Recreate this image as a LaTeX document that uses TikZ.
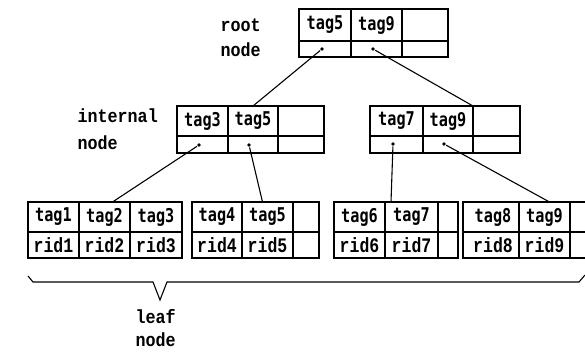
\documentclass[tikz,border=0pt]{standalone}
\usepackage{fontspec}
\newfontfamily\tagfont{DejaVu Sans Mono}
\newfontfamily\lblfont{Liberation Mono}
\newcommand{\tagtext}[1]{\scalebox{0.8}[1]{\tagfont\bfseries\fontsize{19}{19}\selectfont #1}}
\newcommand{\ridtext}[1]{\scalebox{1}[1.25]{\lblfont\bfseries\fontsize{16.5}{16.5}\selectfont #1}}
\newcommand{\lbltext}[1]{\scalebox{0.88}[1]{\lblfont\bfseries\fontsize{19}{19}\selectfont #1}}
\begin{document}
\begin{tikzpicture}[x=1pt,y=-1pt, line width=1.1pt,
  cell/.style={draw, anchor=north west, inner sep=0pt, outer sep=0pt},
  lbl/.style={anchor=west, inner sep=0pt},
  dot/.style={circle, fill, inner sep=0pt, minimum size=3.8pt},
  link/.style={draw, line width=1.1pt}]
\clip (0,0) rectangle (585,352);
% root node
\node[cell, minimum width=52pt, minimum height=32pt] (r1) at (299,9) {\tagtext{tag5}};
\node[cell, minimum width=51pt, minimum height=32pt] (r2) at (351,9) {\tagtext{tag9}};
\node[cell, minimum width=46pt, minimum height=32pt] (r3) at (402,9) {};
\node[cell, minimum width=52pt, minimum height=16pt] (r4) at (299,41) {};
\node[cell, minimum width=51pt, minimum height=16pt] (r5) at (351,41) {};
\node[cell, minimum width=46pt, minimum height=16pt] (r6) at (402,41) {};
% internal node left
\node[cell, minimum width=51pt, minimum height=30pt] (il1) at (177,106) {\tagtext{tag3}};
\node[cell, minimum width=50pt, minimum height=30pt] (il2) at (228,106) {\tagtext{tag5}};
\node[cell, minimum width=46pt, minimum height=30pt] (il3) at (278,106) {};
\node[cell, minimum width=51pt, minimum height=17pt] (il4) at (177,136) {};
\node[cell, minimum width=50pt, minimum height=17pt] (il5) at (228,136) {};
\node[cell, minimum width=46pt, minimum height=17pt] (il6) at (278,136) {};
% internal node right
\node[cell, minimum width=53pt, minimum height=30pt] (ir1) at (370,106) {\tagtext{tag7}};
\node[cell, minimum width=50pt, minimum height=30pt] (ir2) at (423,106) {\tagtext{tag9}};
\node[cell, minimum width=47pt, minimum height=30pt] (ir3) at (473,106) {};
\node[cell, minimum width=53pt, minimum height=17pt] (ir4) at (370,136) {};
\node[cell, minimum width=50pt, minimum height=17pt] (ir5) at (423,136) {};
\node[cell, minimum width=47pt, minimum height=17pt] (ir6) at (473,136) {};
% leaf 1
\node[cell, minimum width=51pt, minimum height=30pt] (la1) at (28,202) {\tagtext{tag1}};
\node[cell, minimum width=51pt, minimum height=30pt] (la2) at (79,202) {\tagtext{tag2}};
\node[cell, minimum width=52pt, minimum height=30pt] (la3) at (130,202) {\tagtext{tag3}};
\node[cell, minimum width=51pt, minimum height=26pt] (la4) at (28,232) {\ridtext{rid1}};
\node[cell, minimum width=51pt, minimum height=26pt] (la5) at (79,232) {\ridtext{rid2}};
\node[cell, minimum width=52pt, minimum height=26pt] (la6) at (130,232) {\ridtext{rid3}};
% leaf 2
\node[cell, minimum width=50pt, minimum height=30pt] (lb1) at (192,202) {\tagtext{tag4}};
\node[cell, minimum width=51pt, minimum height=30pt] (lb2) at (242,202) {\tagtext{tag5}};
\node[cell, minimum width=26pt, minimum height=30pt] (lb3) at (293,202) {};
\node[cell, minimum width=50pt, minimum height=26pt] (lb4) at (192,232) {\ridtext{rid4}};
\node[cell, minimum width=51pt, minimum height=26pt] (lb5) at (242,232) {\ridtext{rid5}};
\node[cell, minimum width=26pt, minimum height=26pt] (lb6) at (293,232) {};
% leaf 3
\node[cell, minimum width=51pt, minimum height=30pt] (lc1) at (334,202) {\tagtext{tag6}};
\node[cell, minimum width=53pt, minimum height=30pt] (lc2) at (385,202) {\tagtext{tag7}};
\node[cell, minimum width=20pt, minimum height=30pt] (lc3) at (438,202) {};
\node[cell, minimum width=51pt, minimum height=26pt] (lc4) at (334,232) {\ridtext{rid6}};
\node[cell, minimum width=53pt, minimum height=26pt] (lc5) at (385,232) {\ridtext{rid7}};
\node[cell, minimum width=20pt, minimum height=26pt] (lc6) at (438,232) {};
% leaf 4
\node[cell, minimum width=56pt, minimum height=30pt] (ld1) at (463,202) {\hspace{4pt}\tagtext{tag8}};
\node[cell, minimum width=51pt, minimum height=30pt] (ld2) at (519,202) {\tagtext{tag9}};
\node[cell, minimum width=30pt, minimum height=30pt] (ld3) at (570,202) {};
\node[cell, minimum width=56pt, minimum height=26pt] (ld4) at (463,232) {\hspace{4pt}\ridtext{rid8}};
\node[cell, minimum width=51pt, minimum height=26pt] (ld5) at (519,232) {\ridtext{rid9}};
\node[cell, minimum width=30pt, minimum height=26pt] (ld6) at (570,232) {};
% pointer dots
\node[dot] (d1) at (322,49) {};
\node[dot] (d2) at (373,49) {};
\node[dot] (d3) at (199,145) {};
\node[dot] (d4) at (249,145) {};
\node[dot] (d5) at (393,144) {};
\node[dot] (d6) at (444,144) {};
% connectors
\draw[link] (d1) -- (il2.north);
\draw[link] (d2) -- (ir2.north east);
\draw[link] (d3) -- ([xshift=8pt]la2.north);
\draw[link] (d4) -- ([xshift=-5pt]lb2.north);
\draw[link] (d5) -- ([xshift=6pt]lc2.north west);
\draw[link] (d6) -- ([xshift=5pt]ld2.north);
% brace
\draw (28,276) -- (33,282) -- (153,282) -- (160,300) -- (167,282) -- (579,282) -- (585,275);
% labels
\node[lbl] (rootl1) at (220,25) {\lbltext{root}};
\node[lbl] (rootl2) at (220,50) {\lbltext{node}};
\node[lbl] (intl1) at (77,116) {\lbltext{internal}};
\node[lbl] (intl2) at (77,143) {\lbltext{node}};
\node[lbl] (leafl1) at (135,317) {\lbltext{leaf}};
\node[lbl] (leafl2) at (135,340) {\lbltext{node}};
\end{tikzpicture}
\end{document}
